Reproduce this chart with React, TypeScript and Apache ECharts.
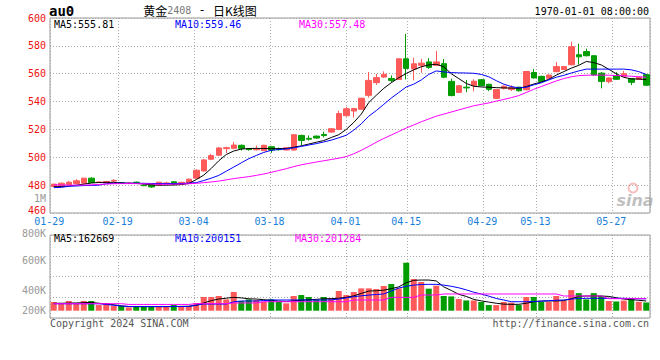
import React, { useEffect, useRef } from 'react';
import * as echarts from 'echarts';

// trading days shown (one candle per day)
const dates = [
  '01-29','01-30','01-31','02-01','02-02','02-05','02-06','02-07','02-08','02-19',
  '02-20','02-21','02-22','02-23','02-26','02-27','02-28','02-29','03-01','03-04',
  '03-05','03-06','03-07','03-08','03-11','03-12','03-13','03-14','03-15','03-18',
  '03-19','03-20','03-21','03-22','03-25','03-26','03-27','03-28','03-29','04-01',
  '04-02','04-03','04-08','04-09','04-10','04-11','04-12','04-15','04-16','04-17',
  '04-18','04-19','04-22','04-23','04-24','04-25','04-26','04-29','04-30','05-06',
  '05-07','05-08','05-09','05-10','05-13','05-14','05-15','05-16','05-17','05-20',
  '05-21','05-22','05-23','05-24','05-27','05-28','05-29','05-30','05-31','06-03'
];
// Sina's grid columns run on a slightly wider pitch than the candles
const gridDates = dates.slice(0, 79);
const xLabels = ['01-29','02-19','03-04','03-18','04-01','04-15','04-29','05-13','05-27'];

const opens = [
  479.1,479.5,480.5,481.2,481.4,485.0,482.0,481.9,482.9,481.9,
  481.4,482.1,479.9,480.4,480.0,480.9,482.4,481.0,481.2,485.0,
  490.2,498.6,501.5,506.2,506.4,508.6,505.9,505.4,504.8,507.6,
  506.2,505.2,505.2,515.7,513.6,515.2,516.4,518.1,520.0,529.8,
  533.2,534.5,544.5,553.6,557.6,556.6,555.9,570.7,563.4,566.0,
  568.5,566.0,567.2,554.5,546.6,550.3,551.4,555.7,552.4,542.3,
  549.6,548.6,550.3,548.5,560.9,558.1,556.8,561.5,563.1,566.4,
  573.6,575.9,572.9,560.4,554.3,558.7,558.1,556.4,555.9,559.3
];
const closes = [
  480.7,481.4,482.1,483.1,485.0,481.9,482.2,482.6,483.4,481.6,
  481.5,481.8,479.6,478.7,482.1,481.6,480.5,482.0,484.3,490.7,
  498.1,501.2,506.7,506.9,508.8,506.4,505.5,505.9,508.6,505.2,
  505.5,506.9,516.2,512.1,513.0,513.8,515.6,520.5,531.4,534.8,
  535.0,542.4,555.2,557.2,559.6,555.2,570.7,563.8,567.1,567.6,
  564.5,568.5,557.5,544.3,551.4,549.8,554.6,551.5,548.8,548.6,
  551.0,550.0,547.8,561.6,557.0,554.5,559.0,565.1,565.1,579.4,
  572.1,572.9,559.1,554.5,556.95,556.0,560.0,553.8,557.5,551.75
];
const lows = [
  478.8,479.3,480.2,480.9,481.2,481.6,481.6,481.6,482.1,481.3,
  481.2,481.4,479.3,478.1,479.8,480.5,480.2,480.7,481.0,484.6,
  489.8,498.0,501.0,503.0,505.8,504.8,504.8,504.9,504.5,503.2,
  504.8,505.0,504.9,508.6,512.0,513.4,514.3,517.6,519.5,529.3,
  528.5,534.0,542.9,552.0,557.0,554.0,555.5,555.9,555.2,560.7,
  563.5,565.5,556.8,543.8,546.0,546.8,547.4,551.0,547.5,541.8,
  548.6,547.6,547.2,548.0,556.5,554.0,556.3,561.0,562.7,566.0,
  566.5,572.5,558.5,549.5,553.1,555.5,557.6,551.8,555.5,551.2
];
const highs = [
  481.0,481.8,483.0,484.3,485.3,485.7,482.5,482.9,484.3,482.3,
  481.8,482.6,480.4,480.8,482.4,482.5,482.8,482.4,484.8,491.4,
  498.8,502.5,507.3,507.6,511.0,509.2,506.6,508.4,509.0,508.2,
  507.0,507.2,516.6,516.2,515.7,515.6,518.4,520.8,533.4,536.2,
  535.5,542.8,561.2,559.8,561.7,558.8,571.0,588.6,571.5,570.7,
  571.2,576.4,570.5,556.4,552.0,555.5,556.0,556.2,552.8,549.0,
  551.6,551.7,550.8,562.0,563.3,558.6,559.6,568.3,565.6,583.0,
  581.5,578.0,573.3,561.2,557.3,561.1,562.0,556.8,558.1,559.8
];
const ma5 = [
  478.8,479.0,479.4,480.0,480.7,481.5,481.9,482.0,482.0,481.5,
  481.3,481.2,480.8,480.2,480.0,480.0,480.1,480.4,481.2,484.0,
  487.2,492.0,497.5,502.0,504.5,505.9,506.3,506.4,506.3,506.2,
  506.2,506.3,507.2,508.2,509.5,510.8,512.0,514.2,516.2,520.0,
  525.0,531.0,539.3,544.5,549.5,553.5,557.1,560.2,562.8,565.0,
  566.3,566.8,565.0,560.0,556.5,553.0,551.0,550.5,550.3,550.0,
  549.8,549.7,549.5,550.8,552.6,554.0,556.0,559.0,561.5,564.0,
  566.0,568.8,568.0,566.3,563.2,560.0,557.4,556.3,556.2,555.8
];
const ma10 = [
  478.2,478.4,479.2,479.4,479.7,479.8,480.0,481.0,481.3,481.4,
  481.4,481.4,481.3,481.2,481.1,481.1,481.2,481.2,481.5,481.8,
  483.3,485.0,487.0,490.0,493.0,496.0,499.0,501.3,503.5,505.0,
  505.6,506.0,506.8,507.8,508.8,509.8,511.0,512.3,514.0,515.8,
  519.5,524.0,529.5,533.5,538.0,542.5,546.5,550.5,552.5,555.5,
  559.5,562.0,561.3,560.8,560.6,560.5,560.3,559.5,557.8,555.0,
  552.5,550.8,549.8,550.3,552.0,553.5,555.5,557.5,558.8,560.5,
  562.0,563.3,563.3,563.3,563.3,563.3,563.3,562.8,561.5,559.5
];
const ma30 = [
  480.2,480.1,480.0,480.0,480.0,480.2,480.5,480.8,481.0,481.1,
  481.1,481.1,481.0,480.8,480.6,480.6,480.7,480.8,481.0,481.3,
  481.8,482.3,482.9,483.8,484.7,485.4,486.1,487.0,488.0,489.2,
  490.5,491.8,493.3,494.6,495.6,496.6,497.5,498.4,499.3,500.5,
  502.5,505.0,507.8,510.8,513.5,516.0,518.5,521.0,523.2,525.5,
  527.5,529.5,531.0,532.5,534.0,535.5,537.0,538.0,539.0,540.3,
  541.5,542.8,544.3,546.5,548.8,550.8,552.8,554.8,556.5,557.8,
  558.6,558.9,559.0,559.0,558.9,558.7,558.5,558.2,557.8,557.5
];
// volume, thousands of lots
const vols = [
  146,112,163,112,163,163,95,123,78,78,
  56,78,78,78,78,78,95,78,78,129,
  230,230,247,190,314,163,190,179,151,190,
  151,123,247,263,230,179,230,207,331,263,
  314,375,375,364,415,448,375,806,532,482,
  370,420,247,240,196,172,172,146,95,95,
  146,134,95,230,230,146,146,247,163,347,
  295,190,295,245,163,155,170,200,150,138
];
const vma5 = [
  125,125,128,130,135,140,125,115,100,80,
  70,68,68,68,68,68,70,72,75,90,
  130,170,196,210,224,215,200,196,185,175,
  160,155,165,175,185,190,200,202,210,225,
  250,290,330,335,345,370,400,470,510,515,
  515,500,400,340,275,240,190,165,145,125,
  110,107,107,125,150,163,163,165,170,200,
  240,247,247,247,240,218,195,185,175,163
];
const vma10 = [
  117,117,117,117,117,117,117,105,90,80,
  71,71,71,71,71,71,71,71,71,95,
  112,112,112,112,150,163,163,163,170,180,
  180,180,180,180,180,180,180,182,195,215,
  235,250,262,272,281,330,380,410,430,440,
  443,443,430,410,385,350,310,280,245,205,
  180,151,151,151,155,160,168,175,180,195,
  205,208,208,208,208,208,208,205,200,200
];
const vma30 = [
  118,118,118,118,118,118,118,118,118,118,
  105,105,105,105,105,105,105,105,105,118,
  118,118,118,118,130,130,130,130,151,151,
  151,151,151,151,151,151,151,151,151,151,
  180,180,180,180,180,224,224,224,224,264,
  264,264,281,281,281,281,281,281,281,281,
  281,281,281,281,281,281,281,281,247,247,
  247,247,247,247,202,202,202,202,202,202
];
const priceLegend = [555.81, 559.46, 557.48];
const volLegend = [162669, 200151, 201284];
const volTickLabels = ['800K', '600K', '400K', '200K'];

const UP = '#ff5a5a';
const DOWN = '#009c00';
const MA_COLORS = ['#000000', '#0000ff', '#ff00ff'];
const MONO = "'DejaVu Sans Mono', 'Liberation Mono', monospace";
const GRID_LINE = { color: '#aaaaaa', type: [1, 2] as any, width: 1 };

export default function App() {
  const ref = useRef<HTMLDivElement>(null);

  useEffect(() => {
    document.body.style.margin = '0';
    const chart = echarts.init(ref.current!, null, { renderer: 'svg' });

    const candleData = dates.map((_, i) => [opens[i], closes[i], lows[i], highs[i]]);
    const volData = vols.map((v, i) => ({
      value: v * 1000,
      itemStyle: { color: closes[i] >= opens[i] ? UP : DOWN },
    }));
    const isLabelDay = (_i: number, v: string) => xLabels.includes(v);

    const lineSeries = (name: string, data: number[], color: string, xi: number, yi: number, mult = 1) => ({
      name,
      type: 'line',
      xAxisIndex: xi,
      yAxisIndex: yi,
      data: data.map((d) => d * mult),
      symbol: 'none',
      showSymbol: false,
      lineStyle: { color, width: 1 },
      silent: true,
    });

    const txt = (text: string, x: number, y: number, fill: string, align = 'left', font = `10px ${MONO}`) => ({
      type: 'text',
      x,
      y,
      silent: true,
      style: { text, fill, font, align, verticalAlign: 'middle', textAlign: align, textVerticalAlign: 'middle' },
    });

    const names = ['MA5', 'MA10', 'MA30'];
    const legendX = [54, 175, 299];
    const volLegendX = [54, 175, 295];
    const volLabelY = [233.6, 260.7, 290.7, 310.7];

    const graphic: any[] = [
      txt('au0', 49, 11, '#000', 'left', `bold 14px ${MONO}`),
      {
        type: 'text',
        x: 200,
        y: 10,
        silent: true,
        style: {
          text: '{a|黄金}{b|2408}{c| - }{a|日K线图}',
          align: 'center',
          verticalAlign: 'middle',
          rich: {
            a: { font: "12px 'Noto Sans CJK SC'", fill: '#000' },
            b: { font: `10px ${MONO}`, fill: '#777' },
            c: { font: `12px ${MONO}`, fill: '#000' },
          },
        },
      },
      txt('1970-01-01 08:00:00', 649, 11, '#000', 'right'),
      txt('1M', 46, 198.3, '#999', 'right'),
      ...names.map((n, k) => txt(`${n}:${priceLegend[k].toFixed(2)}`, legendX[k], 24.5, MA_COLORS[k])),
      ...names.map((n, k) => txt(`${n}:${volLegend[k]}`, volLegendX[k], 238, MA_COLORS[k])),
      ...volTickLabels.map((t, k) => txt(t, 46, volLabelY[k], '#999', 'right')),
      txt('Copyright 2024 SINA.COM', 50, 323, '#555'),
      txt('http://finance.sina.com.cn', 649, 323.5, '#555', 'right'),
      {
        type: 'circle',
        silent: true,
        shape: { cx: 633, cy: 188, r: 4.5 },
        style: { fill: 'none', stroke: 'rgba(240,110,110,0.45)', lineWidth: 2 },
      },
      txt('sina', 635, 200, 'rgba(150,150,150,0.6)', 'center', "italic bold 16px 'DejaVu Sans'"),
    ];

    chart.setOption({
      animation: false,
      backgroundColor: '#ffffff',
      grid: [
        { left: 50, right: 10, top: 18, height: 195, show: true, borderColor: '#999', borderWidth: 1 },
        { left: 50, right: 10, top: 235, height: 83, show: true, borderColor: '#999', borderWidth: 1 },
      ],
      xAxis: [
        {
          type: 'category', gridIndex: 0, data: dates, boundaryGap: true, position: 'bottom',
          axisLine: { show: false }, axisTick: { show: false }, axisLabel: { show: false }, splitLine: { show: false },
        },
        {
          type: 'category', gridIndex: 0, data: gridDates, boundaryGap: true, position: 'bottom',
          axisLine: { show: false }, axisTick: { show: false },
          axisLabel: {
            interval: isLabelDay, color: '#1a7fd9', fontFamily: MONO, fontSize: 10, margin: 3,
            padding: [0, 9, 0, 0],
          },
          splitLine: { show: true, interval: isLabelDay, lineStyle: GRID_LINE },
        },
        {
          type: 'category', gridIndex: 1, data: dates, boundaryGap: true, position: 'bottom',
          axisLine: { show: false }, axisTick: { show: false }, axisLabel: { show: false }, splitLine: { show: false },
        },
        {
          type: 'category', gridIndex: 1, data: gridDates, boundaryGap: true, position: 'bottom',
          axisLine: { show: false }, axisTick: { show: false }, axisLabel: { show: false },
          splitLine: { show: true, interval: isLabelDay, lineStyle: GRID_LINE },
        },
      ],
      yAxis: [
        {
          type: 'value', gridIndex: 0, min: 460, max: 600, interval: 20, position: 'left',
          axisLine: { show: false }, axisTick: { show: false },
          axisLabel: {
            color: '#ee1111', fontFamily: MONO, fontSize: 10, margin: 4,
            formatter: (v: number) => (v === 460 ? `{lo|${v}}` : String(v)),
            rich: { lo: { color: '#ee1111', fontFamily: MONO, fontSize: 10, padding: [0, 0, 6, 0] } },
          },
          splitLine: { show: true, lineStyle: GRID_LINE },
        },
        {
          type: 'value', gridIndex: 1, min: -122640, max: 1271760, show: false,
          splitLine: { show: false },
        },
        {
          type: 'value', gridIndex: 1, min: 0, max: 4, interval: 1, inverse: true, position: 'right',
          axisLine: { show: false }, axisTick: { show: false }, axisLabel: { show: false },
          splitLine: { show: true, lineStyle: GRID_LINE },
        },
      ],
      series: [
        {
          name: 'K',
          type: 'candlestick',
          xAxisIndex: 0,
          yAxisIndex: 0,
          data: candleData,
          barWidth: 6,
          silent: true,
          itemStyle: { color: UP, color0: DOWN, borderColor: UP, borderColor0: DOWN, borderWidth: 1 },
        },
        lineSeries('MA5', ma5, MA_COLORS[0], 0, 0),
        lineSeries('MA10', ma10, MA_COLORS[1], 0, 0),
        lineSeries('MA30', ma30, MA_COLORS[2], 0, 0),
        {
          name: 'VOL',
          type: 'bar',
          xAxisIndex: 2,
          yAxisIndex: 1,
          data: volData,
          barWidth: 6,
          silent: true,
        },
        lineSeries('VMA5', vma5, MA_COLORS[0], 2, 1, 1000),
        lineSeries('VMA10', vma10, MA_COLORS[1], 2, 1, 1000),
        lineSeries('VMA30', vma30, MA_COLORS[2], 2, 1, 1000),
      ],
      graphic,
    });

    return () => chart.dispose();
  }, []);

  return <div ref={ref} style={{ width: 660, height: 360 }} />;
}
